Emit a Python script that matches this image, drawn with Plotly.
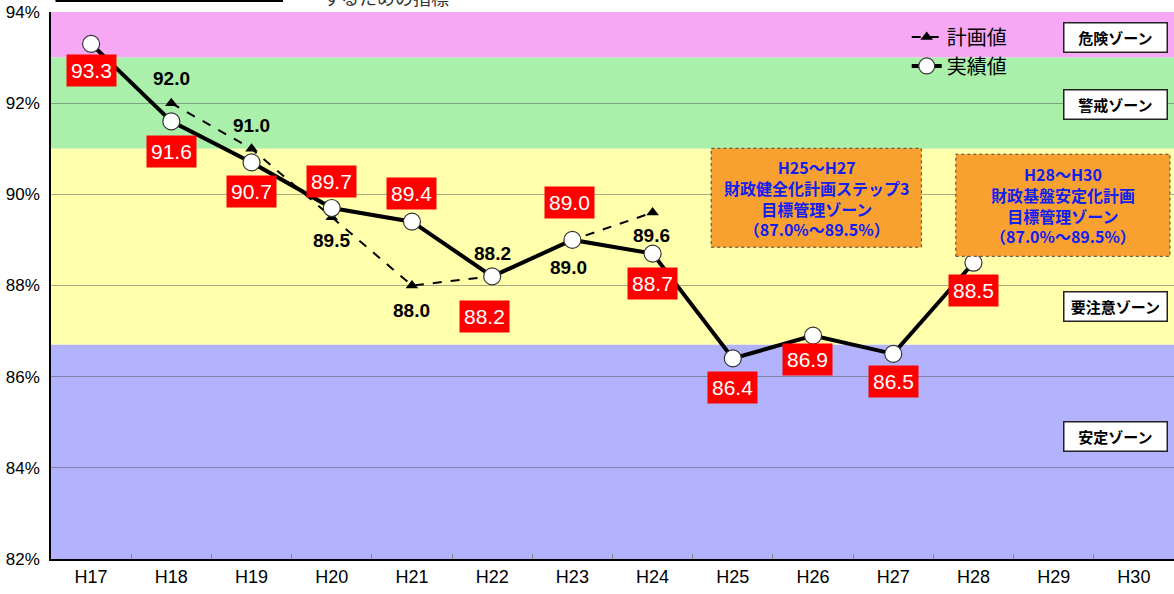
import plotly.graph_objects as go

years = ["H17", "H18", "H19", "H20", "H21", "H22", "H23", "H24",
         "H25", "H26", "H27", "H28", "H29", "H30"]
actual = [93.3, 91.6, 90.7, 89.7, 89.4, 88.2, 89.0, 88.7, 86.4, 86.9, 86.5, 88.5, None, None]
plan = [None, 92.0, 91.0, 89.5, 88.0, 88.2, 89.0, 89.6, None, None, None, None, None, None]

# label offsets (pixels) for the value labels
actual_dx = [0, 0, 0, 0, 0, -8, -3, 0, 0, -6, 0, 0]
actual_dy = [-27, -30, -29, 27, 28, -40, 37, -30, -29, -24, -28, -28]
plan_dx = [0, 0, 0, 0, 0, -4, -1]
plan_dy = [25, 23, -23, -25, 23, -28, -23]

zones = [  # (low, high, colour, label, label_y)
    (93.0, 94.0, "#F6A8F4", "危険ゾーン", 93.43),
    (91.0, 93.0, "#AAF0AA", "警戒ゾーン", 91.98),
    (86.7, 91.0, "#FFFFAC", "要注意ゾーン", 87.55),
    (82.0, 86.7, "#B2B2FD", "安定ゾーン", 84.68),
]

target_boxes = [  # (x0, x1, y0, y1, text)
    (7.73, 10.35, 88.84, 91.01, "H25～H27<br>財政健全化計画ステップ3<br>目標管理ゾーン<br>（87.0%～89.5%）"),
    (10.78, 13.45, 88.64, 90.88, "H28～H30<br>財政基盤安定化計画<br>目標管理ゾーン<br>（87.0%～89.5%）"),
]

JP = "Noto Sans CJK JP"
LAT = "Liberation Sans"
NARROW = "Liberation Sans Narrow, Liberation Sans"

fig = go.Figure()

fig.add_trace(go.Scatter(
    x=years, y=plan, name="計画値", mode="lines+markers",
    line=dict(color="black", width=2, dash="dash"),
    marker=dict(symbol="triangle-up", size=11, color="black"),
    connectgaps=False,
))
fig.add_trace(go.Scatter(
    x=years, y=actual, name="実績値", mode="lines+markers",
    line=dict(color="black", width=4),
    marker=dict(symbol="circle", size=17, color="white", line=dict(color="#333", width=1.2)),
))

shapes = []
for lo, hi, col, _, _ in zones:
    shapes.append(dict(type="rect", xref="paper", yref="y", x0=0, x1=1, y0=lo, y1=hi,
                       fillcolor=col, line=dict(width=0), layer="below"))
for x0, x1, y0, y1, _ in target_boxes:
    shapes.append(dict(type="rect", xref="x", yref="y", x0=x0, x1=x1, y0=y0, y1=y1,
                       fillcolor="#F8A030", line=dict(color="#444", width=1, dash="dot"), layer="above"))
# cut-off header line at very top
shapes.append(dict(type="line", xref="paper", yref="paper", x0=0.004, x1=0.2066, y0=1.0201, y1=1.0201,
                   line=dict(color="black", width=2)))

annotations = []
vals_a = [(i, v) for i, v in enumerate(actual) if v is not None]
for k, (i, v) in enumerate(vals_a):
    annotations.append(dict(x=years[i], y=v, xref="x", yref="y", text=f"{v:.1f}", showarrow=False,
                            xanchor="center", yanchor="middle",
                            xshift=actual_dx[k], yshift=actual_dy[k],
                            font=dict(family=LAT, size=21, color="white"),
                            bgcolor="#FF0000", borderpad=4))
vals_p = [(i, v) for i, v in enumerate(plan) if v is not None]
for k, (i, v) in enumerate(vals_p):
    annotations.append(dict(x=years[i], y=v, xref="x", yref="y", text=f"<b>{v:.1f}</b>", showarrow=False,
                            xanchor="center", yanchor="middle",
                            xshift=plan_dx[k], yshift=plan_dy[k],
                            font=dict(family=LAT, size=19, color="black")))
for _, _, _, lab, ly in zones:
    annotations.append(dict(x=0.9475, y=ly, xref="paper", yref="y", text=f"<b>{lab}</b>", showarrow=False,
                            xanchor="center", yanchor="middle",
                            font=dict(family=JP, size=15, color="black"),
                            bgcolor="white", bordercolor="#222", borderwidth=1.5,
                            width=100, height=26, borderpad=1))
for x0, x1, y0, y1, txt in target_boxes:
    annotations.append(dict(x=(x0 + x1) / 2, y=(y0 + y1) / 2, xref="x", yref="y",
                            xanchor="center", yanchor="middle",
                            text=f"<b>{txt}</b>", showarrow=False,
                            font=dict(family=JP, size=16, color="#1020F0")))
annotations.append(dict(x=0.298, y=1.0274, xref="paper", yref="paper", text="するための指標",
                        xanchor="center", yanchor="middle",
                        showarrow=False, font=dict(family=JP, size=18, color="#333")))

fig.update_layout(
    width=1174, height=594,
    margin=dict(l=51, r=0, t=12, b=35, autoexpand=False),
    paper_bgcolor="white", plot_bgcolor="white",
    shapes=shapes, annotations=annotations,
    showlegend=True,
    legend=dict(x=0.762, y=0.99, xanchor="left", yanchor="top",
                bgcolor="rgba(0,0,0,0)", font=dict(family=JP, size=20, color="black"),
                tracegroupgap=0, itemwidth=30),
    xaxis=dict(type="category", range=[-0.5, 13.5], showgrid=False,
               showline=True, linecolor="black", linewidth=2,
               ticks="inside", tickson="boundaries", ticklen=5, tickcolor="#888",
               tickfont=dict(family=NARROW, size=18, color="black")),
    yaxis=dict(range=[82, 94], dtick=2, ticksuffix="%", showgrid=True,
               gridcolor="rgba(70,70,70,0.45)", gridwidth=1,
               showline=True, linecolor="black", linewidth=1.5, zeroline=False,
               ticks="", ticklabelstandoff=6,
               tickfont=dict(family=NARROW, size=17, color="black")),
)

fig.write_html("out.html", post_script="document.body.style.margin='0';",
               config={"displayModeBar": False})
